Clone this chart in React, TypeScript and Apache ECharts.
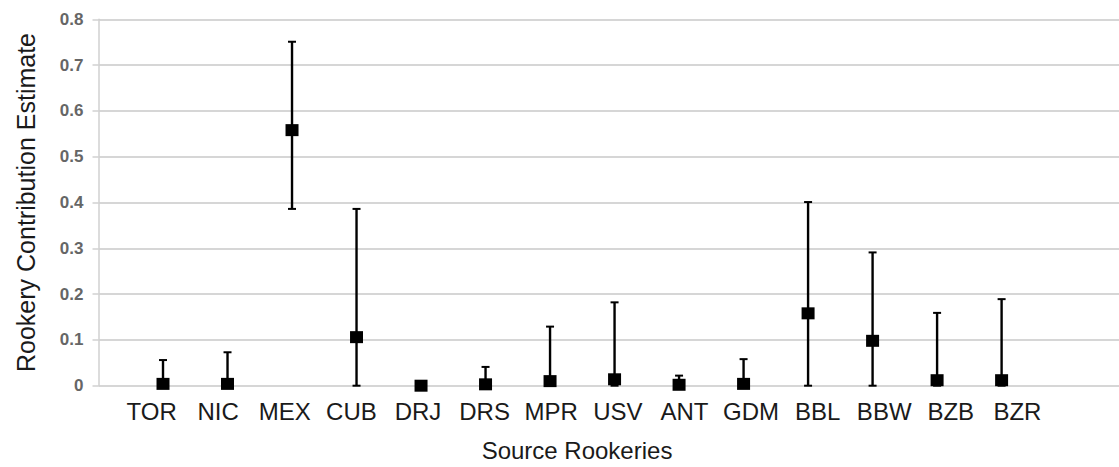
import React, { useEffect, useRef } from "react";
import * as echarts from "echarts";

const categories = ["TOR", "NIC", "MEX", "CUB", "DRJ", "DRS", "MPR", "USV", "ANT", "GDM", "BBL", "BBW", "BZB", "BZR"];
const estimates = [0.004, 0.004, 0.558, 0.106, 0.0, 0.003, 0.01, 0.014, 0.002, 0.004, 0.158, 0.098, 0.012, 0.012];
const lowerBounds = [0, 0, 0.386, 0, 0, 0, 0, 0, 0, 0, 0, 0, 0, 0];
const upperBounds = [0.056, 0.073, 0.751, 0.386, 0, 0.041, 0.129, 0.182, 0.022, 0.058, 0.401, 0.291, 0.159, 0.189];
const yTicks = [0, 0.1, 0.2, 0.3, 0.4, 0.5, 0.6, 0.7, 0.8];

export default function App() {
  const ref = useRef<HTMLDivElement>(null);
  useEffect(() => {
    if (!ref.current) return;
    const chart = echarts.init(ref.current, undefined, { renderer: "svg" });
    const font = "'Liberation Sans', Arial, sans-serif";
    const points = estimates.map((v, i) => [i + 1, v]);
    const bars = estimates.map((_, i) => [i + 1, lowerBounds[i], upperBounds[i]]);
    chart.setOption({
      animation: false,
      backgroundColor: "#ffffff",
      grid: [
        { left: 98.5, right: 0, top: 19.3, bottom: 81.3 },
        { left: 118.3, width: 932.4, top: 19.3, bottom: 81.3 },
      ],
      xAxis: [
        { type: "value", gridIndex: 0, min: 0, max: 15.82, show: false },
        {
          type: "category",
          gridIndex: 1,
          data: categories,
          boundaryGap: true,
          axisLine: { show: false },
          axisTick: { show: false },
          splitLine: { show: false },
          axisLabel: { interval: 0, margin: 23, fontSize: 24, color: "#1a1a1a", fontFamily: font },
          name: "Source Rookeries",
          nameLocation: "middle",
          nameGap: 62,
          nameTextStyle: { fontSize: 24, color: "#1a1a1a", fontFamily: font, padding: [0, 15, 0, 0] },
        },
      ],
      yAxis: [
        {
          type: "value",
          gridIndex: 0,
          min: yTicks[0],
          max: yTicks[yTicks.length - 1],
          interval: 0.1,
          axisLine: { show: true, lineStyle: { color: "#d0d0d0", width: 1.5 } },
          axisTick: { show: true, length: 6, lineStyle: { color: "#d0d0d0", width: 1.5 } },
          splitLine: { show: true, lineStyle: { color: "#d6d6d6", width: 2 } },
          axisLabel: {
            margin: 15,
            fontSize: 17,
            fontWeight: "bold",
            color: "#666666",
            fontFamily: font,
            formatter: (v: number) => (Math.abs(v) < 1e-9 ? "0" : String(Math.round(v * 10) / 10)),
          },
          name: "Rookery Contribution Estimate",
          nameLocation: "middle",
          nameGap: 60,
          nameTextStyle: { fontSize: 25, color: "#1a1a1a", fontFamily: font },
        },
        { type: "value", gridIndex: 1, min: 0, max: 0.8, show: false },
      ],
      series: [
        {
          type: "custom",
          xAxisIndex: 0,
          yAxisIndex: 0,
          data: bars,
          z: 2,
          renderItem: (params: any, api: any) => {
            const x = api.value(0);
            const lo = api.value(1);
            const hi = api.value(2);
            if (hi - lo <= 0) return { type: "group", children: [] };
            const pLo = api.coord([x, lo]);
            const pHi = api.coord([x, hi]);
            const cap = 4;
            const style = { stroke: "#000000", lineWidth: 2.4 };
            return {
              type: "group",
              children: [
                { type: "line", shape: { x1: pLo[0], y1: pLo[1], x2: pHi[0], y2: pHi[1] }, style },
                { type: "line", shape: { x1: pHi[0] - cap, y1: pHi[1], x2: pHi[0] + cap, y2: pHi[1] }, style: { stroke: "#000000", lineWidth: 2 } },
                { type: "line", shape: { x1: pLo[0] - cap, y1: pLo[1], x2: pLo[0] + cap, y2: pLo[1] }, style: { stroke: "#000000", lineWidth: 2 } },
              ],
            };
          },
        },
        {
          type: "scatter",
          xAxisIndex: 0,
          yAxisIndex: 0,
          data: points,
          symbol: "rect",
          symbolSize: [13, 12],
          itemStyle: { color: "#000000", opacity: 1 },
          z: 3,
        },
      ],
    });
    return () => chart.dispose();
  }, []);
  return <div ref={ref} style={{ position: "fixed", left: 0, top: 0, width: 1119, height: 467 }} />;
}
